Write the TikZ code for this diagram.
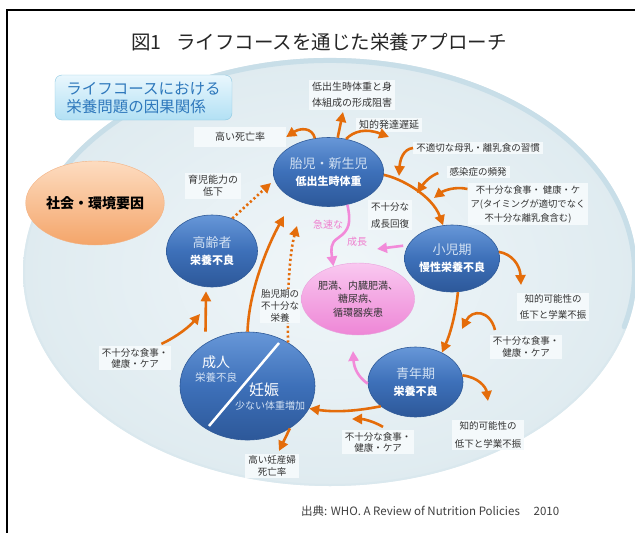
\documentclass[tikz,border=0pt]{standalone}
\usepackage{fontspec}
\setmainfont{Noto Sans CJK JP}
\usetikzlibrary{arrows.meta,shapes.geometric,calc}
\definecolor{org}{HTML}{E46C0A}
\definecolor{pnk}{HTML}{F28AD9}
\definecolor{pinktxt}{HTML}{EF7FCF}
\definecolor{bluetop}{HTML}{6797D8}
\definecolor{bluemid}{HTML}{3D70B9}
\definecolor{bluebot}{HTML}{2D5899}
\definecolor{blueedge}{HTML}{2F5A98}
\definecolor{paleblue}{HTML}{D2E1F3}
\definecolor{lblbg}{HTML}{F4F9FB}
\definecolor{lbltext}{HTML}{333333}
\definecolor{bgin}{HTML}{F0F6F9}
\definecolor{bgout}{HTML}{DFEBF0}
\definecolor{bgrim}{HTML}{C8DEE8}
\definecolor{bgedge}{HTML}{DAE8EE}
\definecolor{HTMLbox}{HTML}{8CC8E2}
\definecolor{boxtop}{HTML}{E9F7FD}
\definecolor{boxbot}{HTML}{B2E0F4}
\definecolor{boxtext}{HTML}{2E78BC}
\definecolor{socTop}{HTML}{FDDCC0}
\definecolor{socBot}{HTML}{F4A56A}
\definecolor{socEdge}{HTML}{F3B283}
\definecolor{pinkTop}{HTML}{F9C8F0}
\definecolor{pinkBot}{HTML}{EE86D6}
\definecolor{pinkEdge}{HTML}{E8A2DC}
\newcommand\ellTop[1]{{\color{paleblue}\fontsize{13}{15}\selectfont #1}}
\newcommand\ellBot[1]{{\color{white}\bfseries\fontsize{11}{13}\selectfont #1}}
\tikzset{
  oarr/.style={draw=org, line width=2.6pt, -{Triangle[length=10pt,width=10pt]}},
  darr/.style={oarr, dash pattern=on 2.2pt off 2.6pt},
  parr/.style={draw=pnk, line width=2.6pt, -{Triangle[length=10pt,width=10pt]}},
  blueell/.style={ellipse, inner sep=0pt, top color=bluetop, bottom color=bluebot, middle color=bluemid,
    draw=blueedge, line width=0.6pt, align=center, font=\fontsize{11}{17}\selectfont},
  lbl/.style={fill=lblbg, inner xsep=3pt, inner ysep=2pt, align=center, text=lbltext,
    font=\fontsize{9.5}{12}\selectfont},
  pinklbl/.style={text=pinktxt, font=\fontsize{10}{12}\selectfont, inner sep=1pt},
}
\begin{document}
\begin{tikzpicture}[x=1pt,y=-1pt]
\useasboundingbox (0,0) rectangle (635,533);
\fill[white] (0,0) rectangle (635,533);
% frame
\draw[line width=2.6pt] (7,545) -- (7,10) -- (650,10);
% background ellipse
\shade[inner color=bgin, outer color=bgout] (330,272) ellipse [x radius=307, y radius=214];
\draw[bgedge, line width=2pt] (330,272) ellipse [x radius=306, y radius=213];
\draw[bgrim, line width=5pt, line cap=round] (330,272) ++(195:304.5 and 211.5) arc [start angle=195, end angle=375, x radius=304.5, y radius=211.5];
% title
\node[font=\fontsize{19.5}{22}\selectfont, text=black!85] (title) at (319,42)
  {図1\hspace{0.75em}ライフコースを通じた栄養アプローチ};
% title box
\node[draw=HTMLbox, rounded corners=7pt, top color=boxtop, bottom color=boxbot,
  minimum width=177pt, minimum height=45pt, text=boxtext, align=left,
  font=\fontsize{15.5}{18}\selectfont] (tbox) at (143.5,97.5)
  {ライフコースにおける\\栄養問題の因果関係};
% social factors
\node[ellipse, minimum width=124pt, minimum height=84pt, inner sep=0pt,
  top color=socTop, bottom color=socBot, draw=socEdge,
  font=\bfseries\fontsize{14}{16}\selectfont] (soc) at (95,203) {社会・環境要因};
% blue ellipses
\node[blueell, minimum width=97pt, minimum height=69pt] (fetus) at (328.5,172)
  {\ellTop{胎児・新生児}\\\ellBot{低出生時体重}};
\node[blueell, minimum width=91pt, minimum height=72pt] (elderly) at (212,251)
  {\ellTop{高齢者}\\\ellBot{栄養不良}};
\node[blueell, minimum width=95pt, minimum height=67pt] (child) at (452,258.5)
  {\ellTop{小児期}\\\ellBot{慢性栄養不良}};
\node[blueell, minimum width=95pt, minimum height=70pt] (adol) at (415.5,382)
  {\ellTop{青年期}\\\ellBot{栄養不良}};
\node[blueell, minimum width=135pt, minimum height=108pt] (adult) at (247.5,386) {};
\draw[white, line width=2.5pt] ($(adult.center)+(-38.5,40)$) -- ($(adult.center)+(31.5,-43)$);
\node[text=white, font=\fontsize{14}{16}\selectfont, inner sep=0pt] (adT1) at (216,362) {成人};
\node[text=paleblue, font=\fontsize{10.5}{12}\selectfont, inner sep=0pt] (adT2) at (216,378) {栄養不良};
\node[text=white, font=\fontsize{15}{17}\selectfont, inner sep=0pt] (adT3) at (264,390) {妊娠};
\node[text=paleblue, font=\fontsize{10}{12}\selectfont, inner sep=0pt] (adT4) at (270,406) {少ない体重増加};
% pink ellipse
\node[ellipse, minimum width=100pt, minimum height=72pt, inner sep=0pt,
  top color=pinkTop, bottom color=pinkBot, draw=pinkEdge, align=center, text=lbltext,
  font=\fontsize{10}{13.5}\selectfont] (pink) at (358,299) {肥満、内臓肥満、\\糖尿病、\\循環器疾患};
% labels
\node[lbl, font=\fontsize{10}{16}\selectfont] (lA) at (352,95) {低出生時体重と身\\体組成の形成阻害};
\node[lbl, font=\fontsize{10}{12}\selectfont] (lB) at (389,125) {知的発達遅延};
\node[lbl, font=\fontsize{10}{12}\selectfont, minimum width=92pt, minimum height=20pt] (lC) at (240,137) {高い死亡率};
\node[lbl, font=\fontsize{10}{12}\selectfont] (lD) at (213,186) {育児能力の\\低下};
\node[lbl] (lE) at (478,148) {不適切な母乳・離乳食の習慣};
\node[lbl] (lF) at (478,172) {感染症の頻発};
\node[lbl, font=\fontsize{9.3}{14}\selectfont] (lG) at (528,204) {不十分な食事・ 健康・ケ\\ア(タイミングが適切でなく\\不十分な離乳食含む)};
\node[lbl, align=left, font=\fontsize{9.5}{17}\selectfont] (lH) at (390,215) {不十分な\\成長回復};
\node[pinklbl] (lI1) at (328,225) {急速な};
\node[pinklbl] (lI2) at (357,242) {成長};
\node[lbl, font=\fontsize{9.5}{16}\selectfont] (lJ) at (553,307) {知的可能性の\\低下と学業不振};
\node[lbl, font=\fontsize{9.5}{11.5}\selectfont] (lK) at (526,347) {不十分な食事・\\健康・ケア};
\node[lbl, font=\fontsize{9.5}{18}\selectfont] (lL) at (488,435) {知的可能性の\\低下と学業不振};
\node[lbl, font=\fontsize{9.5}{11}\selectfont] (lM) at (378,442) {不十分な食事・\\健康・ケア};
\node[lbl, font=\fontsize{9.5}{12}\selectfont] (lN) at (272,466) {高い妊産婦\\死亡率};
\node[lbl, font=\fontsize{9.5}{11}\selectfont] (lO) at (135,358) {不十分な食事・\\健康・ケア};
% free ends
\coordinate (a2e) at (343,112);
\coordinate (a3e) at (389,137);
\coordinate (a5e) at (399,176);
\coordinate (a6e) at (417,193);
\coordinate (a7e) at (434,198);
\coordinate (a9e) at (377,249);
\coordinate (a10e) at (521,285);
\coordinate (a12s) at (495,330);
\coordinate (a12e) at (462,329);
\coordinate (a13e) at (488,401);
\coordinate (a15e) at (352,419);
\coordinate (a16e) at (353,351);
\coordinate (a17e) at (279,451);
\coordinate (a18e) at (200,314);
\coordinate (a20e) at (284,216);
\coordinate (a21e) at (297,226);
\coordinate (a22e) at (271,183);
% arrows
\draw[oarr] (fetus.112) .. controls (312,127) and (300,128) .. (lC.east);
\draw[oarr] (fetus.75) -- (a2e);
\draw[oarr] (fetus.62) .. controls (354,131) and (366,128) .. (a3e);
\draw[oarr] (fetus.-3) .. controls (400,178) and (432,195) .. (child.105);
\draw[oarr] (lE.west) .. controls (403,149) and (400,160) .. (a5e);
\draw[oarr] ($(lF.west)+(-8,1)$) .. controls (430,176) and (424,183) .. (a6e);
\draw[oarr] ($(lG.west)+(0,-15)$) .. controls (455,186) and (443,191) .. (a7e);
\draw[parr] (fetus.-60) .. controls (351,222) and (350,230) .. (338,238) .. controls (330,243) and (331,250) .. (pink.127);
\draw[parr, shorten <=5pt] (child.163) -- (a9e);
\draw[oarr] (child.8) .. controls (512,254) and (520,265) .. (a10e);
\draw[oarr] (child.-80) .. controls (456,312) and (451,332) .. (adol.48);
\draw[oarr] (a12s) .. controls (490,310) and (472,309) .. (a12e);
\draw[oarr] (adol.8) .. controls (478,377) and (486,387) .. (a13e);
\draw[oarr] (adol.215) .. controls (352,412) and (332,412) .. (adult.-20);
\draw[oarr] ($(lM.north)+(5,-3)$) .. controls (373,421) and (363,419) .. (a15e);
\draw[parr] (adol.182) .. controls (358,377) and (354,368) .. (a16e);
\draw[oarr] (adult.-45) -- (a17e);
\draw[oarr] ($(lO.north east)+(-10,-2)$) .. controls (178,336) and (190,326) .. (a18e);
\draw[oarr] ($(adult.north)+(-42,0)$) -- ($(elderly.south)+(-6,4)$);
\draw[oarr] (adult.north) .. controls (249,290) and (268,245) .. (a20e);
\draw[darr] (adult.47) .. controls (287,300) and (289,255) .. (a21e);
\draw[darr] (elderly.58) -- (a22e);
\node[lbl, font=\fontsize{9.5}{12}\selectfont, inner sep=1pt] (lP) at (280,306) {胎児期の\\不十分な\\栄養};
% source
\node[anchor=west, text=black!75, font=\fontsize{11.5}{13}\selectfont, inner sep=0pt] (src) at (301,511)
  {出典: WHO. A Review of Nutrition Policies\hspace{1.2em}2010};
\end{tikzpicture}
\end{document}
